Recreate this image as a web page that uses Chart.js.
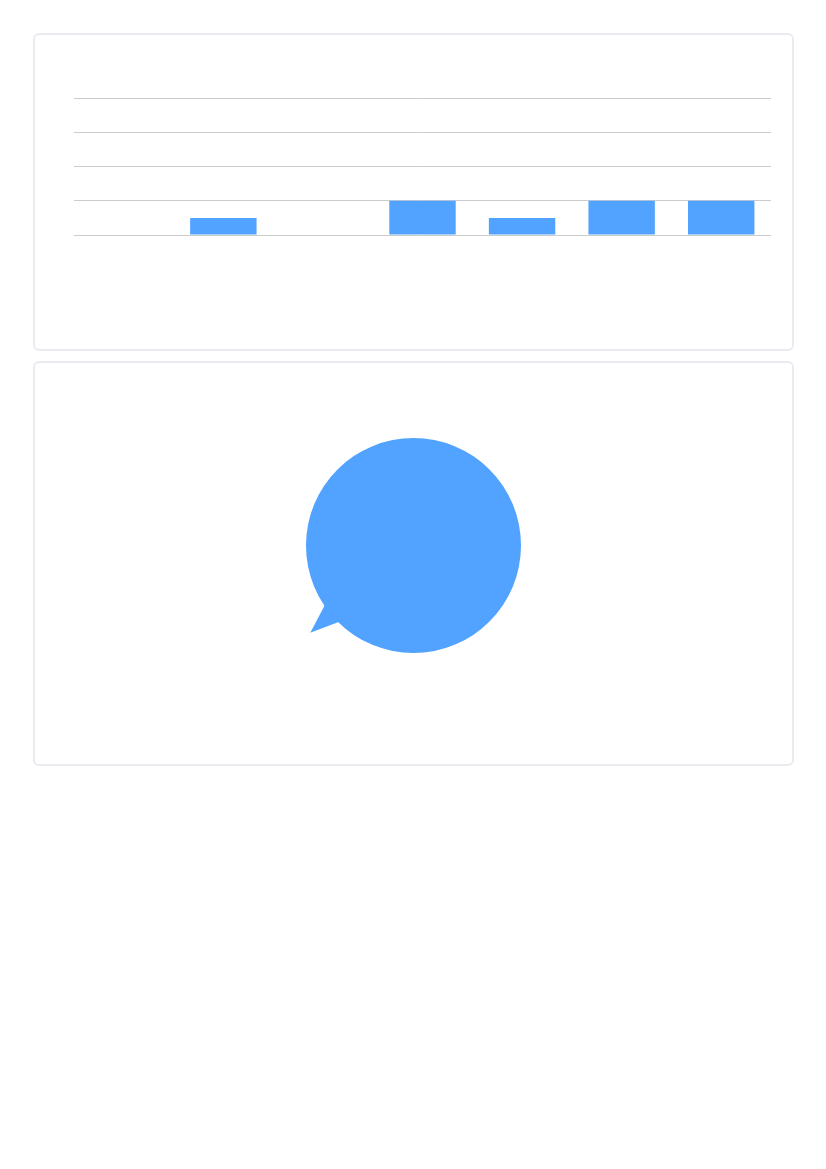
<!DOCTYPE html>
<html>
<head>
<meta charset="utf-8">
<title>Charts</title>
<script src="https://cdn.jsdelivr.net/npm/chart.js@4/dist/chart.umd.min.js"></script>
<style>
  html, body { margin: 0; padding: 0; background: #fff; }
  .card {
    position: absolute;
    left: 33px;
    width: 757px;
    border: 2px solid #e9ebf0;
    border-radius: 6px;
    box-sizing: content-box;
    background: #fff;
  }
  #card1 { top: 33px; height: 314px; }
  #card2 { top: 361px; height: 401px; }
  canvas { display: block; }
</style>
</head>
<body>
<div class="card" id="card1"><canvas id="barChart"></canvas></div>
<div class="card" id="card2"><canvas id="pieChart"></canvas></div>
<script>
// Data
const barLabels = ['1', '2', '3', '4', '5', '6', '7'];
const barValues = [0, 1, 0, 2, 1, 2, 2];
const yTicksMax = 8;
const yTicksStep = 2;

const pieLabels = ['1'];
const pieValues = [1];

const blue = '#52a3ff';

// Speech-bubble tail on the pie, worked out from the arc the library drew.
// Angles are degrees clockwise from straight down.
const pieTail = {
    id: 'pieTail',
    afterDatasetsDraw(chart) {
        const arc = chart.getDatasetMeta(0).data[0];
        const ctx = chart.ctx;
        const r = arc.outerRadius;
        const at = (deg, dist) => {
            const a = deg * Math.PI / 180;
            return [arc.x - Math.sin(a) * dist, arc.y + Math.cos(a) * dist];
        };
        ctx.save();
        ctx.fillStyle = blue;
        ctx.beginPath();
        ctx.moveTo(...at(56.2, r - 1));
        ctx.lineTo(...at(49.8, r * 1.257));
        ctx.lineTo(...at(44.2, r - 1));
        ctx.closePath();
        ctx.fill();
        ctx.restore();
    }
};

//----------------------------------Chart 1------------------------------------------------
new Chart(document.getElementById('barChart').getContext('2d'), {
    type: 'bar',
    data: {
        labels: barLabels,
        datasets: [{
            data: barValues,
            backgroundColor: blue,
            borderWidth: 0,
            barPercentage: 0.667,
            categoryPercentage: 1
        }]
    },
    options: {
        responsive: true,
        maintainAspectRatio: false,
        animation: false,
        layout: { padding: { left: 39, right: 21, top: 63, bottom: 106 } },
        plugins: { legend: { display: false }, tooltip: { enabled: false } },
        scales: {
            x: {
                ticks: { display: false },
                grid: { display: false },
                border: { display: false }
            },
            y: {
                min: 0,
                max: yTicksMax,
                ticks: { display: false, stepSize: yTicksStep },
                grid: { color: '#cccccc', lineWidth: 1, drawTicks: false },
                border: { display: false }
            }
        }
    }
});

//----------------------------------Chart 2------------------------------------------------
new Chart(document.getElementById('pieChart').getContext('2d'), {
    type: 'pie',
    data: {
        labels: pieLabels,
        datasets: [{
            data: pieValues,
            backgroundColor: blue,
            borderWidth: 0
        }]
    },
    options: {
        responsive: true,
        maintainAspectRatio: false,
        animation: false,
        layout: { padding: { top: 75, bottom: 111 } },
        plugins: { legend: { display: false }, tooltip: { enabled: false } }
    },
    plugins: [pieTail]
});
</script>
</body>
</html>
